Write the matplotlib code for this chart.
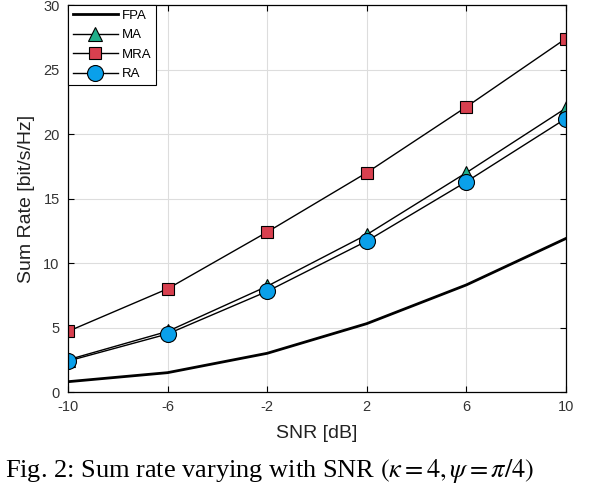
import matplotlib
matplotlib.use("Agg")
import matplotlib.pyplot as plt

snr = [-10, -6, -2, 2, 6, 10]
fpa = [0.8, 1.5, 3.0, 5.3, 8.3, 11.9]
ma = [2.5, 4.7, 8.2, 12.2, 17.0, 22.0]
mra = [4.7, 8.0, 12.4, 17.0, 22.1, 27.4]
ra = [2.4, 4.5, 7.8, 11.7, 16.3, 21.2]
xticks = [-10, -6, -2, 2, 6, 10]
yticks = [0, 5, 10, 15, 20, 25, 30]

plt.rcParams['font.family'] = ['Liberation Sans', 'DejaVu Sans']
plt.rcParams['axes.unicode_minus'] = False
fig = plt.figure(figsize=(6.02, 4.86), dpi=100)
ax = fig.add_axes([0.113, 0.1934, 0.827, 0.7963])

ax.plot(snr, fpa, color='black', lw=2.0, label='FPA')
ax.plot(snr, ma, color='black', lw=1.0, marker='^', ms=10,
        mfc='#1fae8a', mec='black', mew=0.8, label='MA')
ax.plot(snr, mra, color='black', lw=1.0, marker='s', ms=9,
        mfc='#d8404f', mec='black', mew=0.8, label='MRA')
ax.plot(snr, ra, color='black', lw=1.0, marker='o', ms=11.5,
        mfc='#0aa0ea', mec='black', mew=0.8, label='RA')

ax.set_xlim(-10, 10)
ax.set_ylim(0, 30)
ax.set_xticks(xticks)
ax.set_yticks(yticks)
ax.tick_params(direction='in', top=True, right=True, length=4, width=0.8,
               labelsize=10.5, colors='black', labelcolor='#333333', pad=6)
ax.grid(True, color='#dddddd', lw=0.8)
ax.set_axisbelow(True)
for s in ax.spines.values():
    s.set_linewidth(0.9)

ax.set_xlabel('SNR [dB]', fontsize=14, labelpad=8, color='#222222')
ax.set_ylabel('Sum Rate [bit/s/Hz]', fontsize=14, labelpad=6, color='#222222')

leg = ax.legend(loc='upper left', borderaxespad=0, fontsize=9.5,
                fancybox=False, edgecolor='black', framealpha=1,
                handlelength=3.4, handletextpad=0.3, labelspacing=0.55,
                borderpad=0.35)
leg.get_frame().set_linewidth(0.8)

fig.text(0.008, 0.003, r'Fig. 2: Sum rate varying with SNR $(\kappa = 4, \psi = \pi/4)$',
         fontsize=19, family=['Liberation Serif', 'DejaVu Serif'],
         ha='left', va='bottom', math_fontfamily='stix')

fig.savefig('out.png', dpi=100)
